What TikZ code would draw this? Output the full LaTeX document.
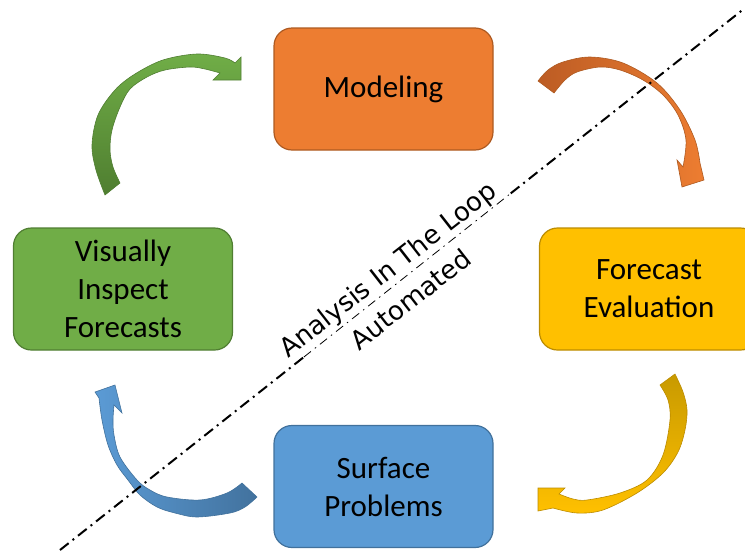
\documentclass[tikz,border=0pt]{standalone}
\usepackage{fontspec}
\setmainfont{Carlito}
\newfontfamily\dejavu{DejaVu Sans}
\usetikzlibrary{calc}
\definecolor{orgL}{HTML}{ED7D31}
\definecolor{orgB}{HTML}{AE5A21}
\definecolor{orgD}{HTML}{BC5C24}
\definecolor{gldL}{HTML}{FFC000}
\definecolor{gldB}{HTML}{BC8C00}
\definecolor{gldD}{HTML}{C89A00}
\definecolor{grnL}{HTML}{70AD47}
\definecolor{grnB}{HTML}{507E32}
\definecolor{grnD}{HTML}{4F7E30}
\definecolor{bluL}{HTML}{5B9BD5}
\definecolor{bluB}{HTML}{41719C}
\definecolor{bluD}{HTML}{42729E}
\begin{document}
\begin{tikzpicture}[x=1pt,y=-1pt,
  box/.style={draw, line width=1.2pt, rounded corners=18pt, minimum width=219pt,
    minimum height=122pt, align=center, inner sep=0pt,
    font=\fontsize{31}{38}\selectfont},
  curvarrow/.style={line width=0.6pt},
  sep/.style={line width=2pt, dash pattern=on 11pt off 5pt on 2pt off 5pt},
  septhin/.style={line width=0.8pt, dash pattern=on 9pt off 5pt on 1.5pt off 5pt},
  lab/.style={font=\dejavu\fontsize{26}{38}\selectfont, rotate=38, inner sep=0pt, align=center}]
\useasboundingbox (0,0) rectangle (745,552);
\clip (0,0) rectangle (745,552);

% boxes
\node[box, fill=orgL, draw=orgB] (model) at (383.5,89) {Modeling};
\node[box, fill=gldL, draw=gldB] (eval) at (649,289) {Forecast\\Evaluation};
\node[box, fill=grnL, draw=grnB] (inspect) at (123,289) {Visually\\Inspect\\Forecasts};
\node[box, fill=bluL, draw=bluB] (surface) at (383.5,486.5) {Surface\\Problems};

% green curved arrow
\shadedraw[curvarrow, draw=grnB, top color=grnL, bottom color=grnD]
  plot[smooth, tension=0.55] coordinates {(105,195) (96,170) (92,145) (98,115) (115,90) (135,74) (163,60) (197,54) (225,58) (235,63)}
  -- (241,57) -- (241,80) -- (213,80)
  -- plot[smooth, tension=0.55] coordinates {(220,73) (205,69) (190,67) (165,70) (147,77) (130,89) (120,107) (112,130) (110,150) (113,167) (120,183)}
  -- cycle;

% orange curved arrow
\shadedraw[curvarrow, draw=orgB, left color=orgD, right color=orgL]
  plot[smooth, tension=0.55] coordinates {(538,81) (548,70) (563,62) (590,57) (623,63) (657,83) (680,110) (695,140) (700,163)}
  -- (704,180) -- (682,187) -- (677,160)
  -- plot[smooth, tension=0.55] coordinates {(683,167) (686,140) (678,115) (663,95) (643,80) (620,70) (600,67) (577,72) (565,80) (554,93)}
  -- cycle;

% gold curved arrow
\shadedraw[curvarrow, draw=gldB, top color=gldD, bottom color=gldL]
  plot[smooth, tension=0.55] coordinates {(675,374) (683,392) (687,410) (685,430) (678,452) (663,473) (637,493) (603,510) (577,513) (553,508)}
  -- (538,511) -- (538,488) -- (565,488)
  -- plot[smooth, tension=0.55] coordinates {(559,494) (573,499) (587,500) (620,493) (647,480) (663,455) (670,420) (668,400) (660,385)}
  -- cycle;

% blue curved arrow
\shadedraw[curvarrow, draw=bluB, left color=bluL, right color=bluD]
  plot[smooth, tension=0.55] coordinates {(257,497) (245,507) (230,513) (197,517) (175,513) (157,507) (140,495) (128,480) (117,465) (108,445) (102,420) (99,398)}
  -- (95,392) -- (115,385) -- (122,413)
  -- plot[smooth, tension=0.55] coordinates {(114,405) (113,420) (114,435) (120,457) (137,480) (150,490) (167,497) (200,500) (227,493) (242,483)}
  -- cycle;

% separator line
\coordinate (s1) at (60,550);
\coordinate (s2) at (745,8);
\coordinate (t1) at ($(s1)!0.356!(s2)$);
\coordinate (t2) at ($(s1)!0.658!(s2)$);
\draw[sep] (s1) -- (t1);
\draw[septhin] (t1) -- (t2);
\draw[sep] (t2) -- (s2);

% labels
\node[lab] (loop) at (399,284) {Analysis In The Loop\\Automated};
\end{tikzpicture}
\end{document}
